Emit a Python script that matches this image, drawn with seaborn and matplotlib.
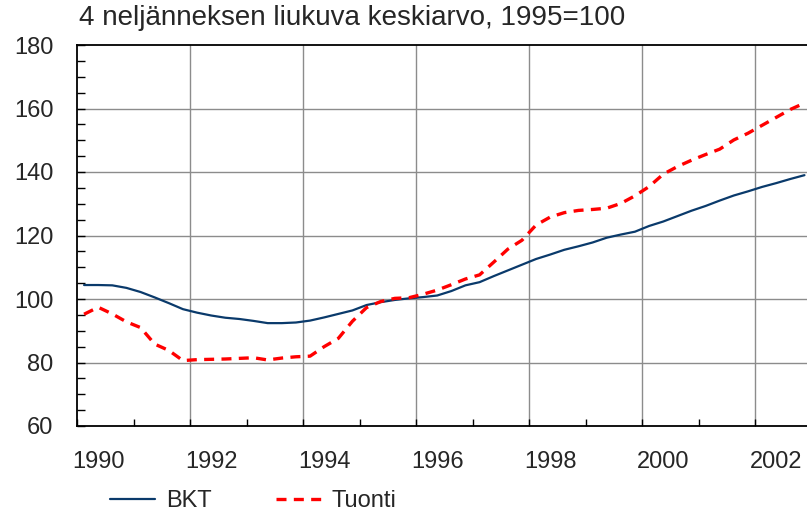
import matplotlib
matplotlib.use("Agg")
import matplotlib.pyplot as plt
import numpy as np
import pandas as pd
import seaborn as sns

# quarterly data 1990Q1 - 2002Q4, 4-quarter moving average, 1995=100
years = list(range(1990, 2003))
quarters = [1, 2, 3, 4]
bkt = [104.4, 104.4, 104.3, 103.5, 102.2, 100.5, 98.7, 96.8,
       95.7, 94.8, 94.1, 93.7, 93.1, 92.4, 92.4, 92.6,
       93.2, 94.2, 95.3, 96.4, 98.1, 99.0, 99.7, 100.2,
       100.6, 101.1, 102.5, 104.3, 105.3, 107.2, 109.0, 110.8,
       112.6, 114.0, 115.5, 116.6, 117.8, 119.3, 120.3, 121.2,
       123.0, 124.4, 126.1, 127.8, 129.3, 131.0, 132.6, 133.9,
       135.3, 136.5, 137.8, 139.0]
tuonti = [95.2, 97.4, 95.3, 92.8, 91.0, 85.8, 83.8, 80.6,
          80.9, 81.0, 81.1, 81.3, 81.5, 80.8, 81.4, 81.8,
          82.0, 85.0, 87.6, 93.0, 97.3, 99.2, 100.2, 100.4,
          101.5, 102.8, 104.5, 106.3, 107.6, 111.6, 115.7, 118.5,
          123.3, 125.8, 127.2, 127.9, 128.2, 128.6, 130.1, 132.5,
          135.4, 139.3, 141.7, 143.7, 145.5, 147.2, 150.1, 152.2,
          154.7, 157.2, 159.7, 161.7]
tick_years = [1990, 1992, 1994, 1996, 1998, 2000, 2002]

# x position = centre of each quarter
t = [y + (q - 0.5) / 4 for y in years for q in quarters]
df = pd.DataFrame({"t": t, "BKT": bkt, "Tuonti": tuonti})

sns.set_style("white")
plt.rcParams['font.family'] = ['Liberation Sans', 'DejaVu Sans']

fig = plt.figure(figsize=(8.07, 5.15), dpi=100)
ax = fig.add_axes([77 / 807, 1 - 426 / 515, 730 / 807, 381 / 515])

sns.lineplot(data=df, x="t", y="BKT", ax=ax, color="#0a3a6b", lw=1.6, label="BKT")
sns.lineplot(data=df, x="t", y="Tuonti", ax=ax, color="#ff0000", lw=2.4,
             dashes=(3.0, 2.2), label="Tuonti")

ax.set_xlim(1990, 2002.92)
ax.set_ylim(60, 180)
ax.set_xlabel("")
ax.set_ylabel("")

ax.set_yticks(range(60, 181, 20))
ax.set_yticks(range(60, 181, 5), minor=True)
ax.set_xticks(years)
ax.set_xticklabels([])
ax.tick_params(axis="y", which="both", direction="in", length=6, width=1,
               color="black", labelsize=17, pad=17, left=True)
ax.tick_params(axis="x", which="major", direction="in", length=5, width=1,
               color="black", bottom=True)
for yr in tick_years:
    ax.text(yr + 0.375, -0.066, str(yr), transform=ax.get_xaxis_transform(),
            ha="center", va="top", fontsize=17)

ax.grid(False)
for v in range(80, 180, 20):
    ax.axhline(v, color="#8c8c8c", lw=1, zorder=0)
for yr in tick_years[1:]:
    ax.axvline(yr, color="#8c8c8c", lw=1, zorder=0)

for s in ["left", "bottom", "top"]:
    ax.spines[s].set_color("black")
    ax.spines[s].set_linewidth(1.3)
ax.spines["right"].set_visible(False)

fig.text(79 / 807, 1 - 25 / 515, "4 neljänneksen liukuva keskiarvo, 1995=100",
         fontsize=20, ha="left", va="baseline")

ax.legend(loc="center left", bbox_to_anchor=(108 / 807, 1 - 501 / 515),
          bbox_transform=fig.transFigure, ncol=2, frameon=False, fontsize=17,
          handlelength=1.9, handletextpad=0.45, columnspacing=2.75,
          borderaxespad=0, borderpad=0.1)

fig.savefig("out.png", dpi=100)
